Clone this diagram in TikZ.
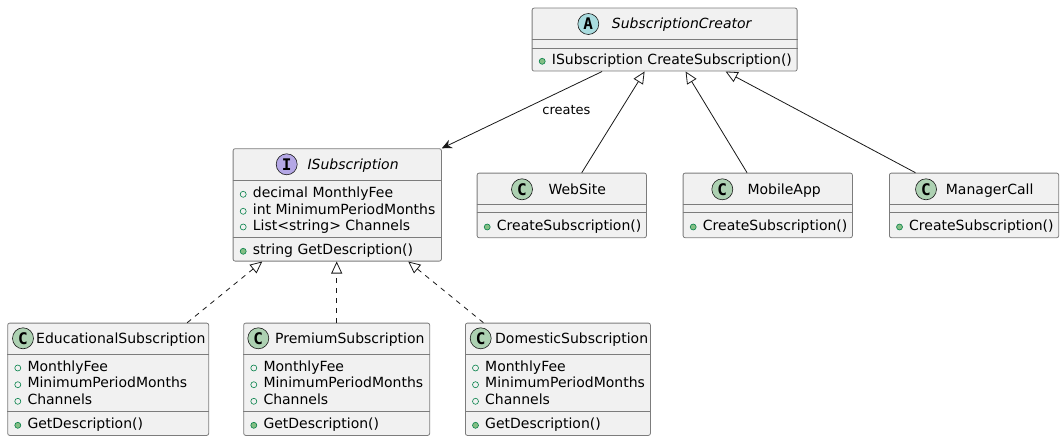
\documentclass[tikz,border=0pt]{standalone}
\usepackage{fontspec}
\setmainfont{DejaVu Sans}
\newfontfamily\iconfont{DejaVu Sans Mono}
\usetikzlibrary{arrows.meta,positioning}
\definecolor{boxfill}{HTML}{F1F1F1}
\definecolor{boxline}{HTML}{181818}
\definecolor{boxedge}{HTML}{7C7C7C}
\definecolor{iconC}{HTML}{ADD1B2}
\definecolor{iconA}{HTML}{A9DCDF}
\definecolor{iconI}{HTML}{B4A7E5}
\definecolor{markline}{HTML}{038048}
\definecolor{markfill}{HTML}{84BE84}
\tikzset{
  classbox/.style={draw=boxedge, fill=boxfill, line width=0.8pt, rounded corners=2pt, anchor=north west, inner sep=0pt},
  sep/.style={draw=boxedge, line width=0.8pt},
  icon/.style={circle, draw=boxline, line width=0.6pt, minimum size=21pt, inner sep=0pt, font=\iconfont\fontsize{16}{16}\selectfont\bfseries},
  cname/.style={anchor=base west, inner sep=0pt, font=\fontsize{14}{16}\selectfont},
  member/.style={anchor=base west, inner sep=0pt, font=\fontsize{14}{16}\selectfont},
  fieldmark/.style={draw=markline, line width=0.6pt, fill=none},
  methodmark/.style={draw=markline, line width=0.6pt, fill=markfill},
  link/.style={draw=boxline, line width=0.8pt},
  extends/.style={link, -{Triangle[open, length=12pt, width=11pt]}},
  realizes/.style={extends, dash pattern=on 5pt off 5pt},
}
\begin{document}
\begin{tikzpicture}[x=1pt,y=-1pt]
  \useasboundingbox (0,0) rectangle (1064,441);
  % abstract creator
  \node[classbox, minimum width=265pt, minimum height=63pt] (creator) at (531.7,7.7) {};
  \draw[sep] ([yshift=-31.6pt]creator.north west) -- ([yshift=-31.6pt]creator.north east);
  \draw[sep] ([yshift=-40.6pt]creator.north west) -- ([yshift=-40.6pt]creator.north east);
  \node[icon, fill=iconA] (creator-icon) at (588.3,24) {A};
  \node[cname] (creator-name) at (611.7,29) {\itshape SubscriptionCreator};
  \draw[methodmark] ([xshift=10.5pt,yshift=-53.6pt]creator.north west) circle (3pt);
  \node[member] (creator-op) at ([xshift=20pt,yshift=-56.6pt]creator.north west) {ISubscription CreateSubscription()};
  % interface
  \node[classbox, minimum width=208.3pt, minimum height=112.4pt] (isub) at (232.7,148.3) {};
  \draw[sep] ([yshift=-32.4pt]isub.north west) -- ([yshift=-32.4pt]isub.north east);
  \draw[sep] ([yshift=-89.4pt]isub.north west) -- ([yshift=-89.4pt]isub.north east);
  \node[icon, fill=iconI] (isub-icon) at (286.7,164.3) {I};
  \node[cname] (isub-name) at (307.3,169.3) {\itshape ISubscription};
  \foreach \y/\t [count=\i] in {197.3/decimal MonthlyFee, 214.3/int MinimumPeriodMonths, 230/List<string> Channels} {
    \draw[fieldmark] (243.2,\y-3) circle (3pt);
    \node[member] (isub-f\i) at (252.7,\y) {\t};
  }
  \draw[methodmark] (243.2,251.3) circle (3pt);
  \node[member] (isub-op) at (252.7,254.3) {string GetDescription()};
  % concrete creators
  \foreach \n/\x/\t/\ix/\tx in {web/476.7/WebSite/522/548.3, mobile/682.7/MobileApp/722.3/747.3, manager/889/ManagerCall/926/945.7} {
    \node[classbox, minimum width=169.3pt, minimum height=64.6pt] (\n) at (\x,172.7) {};
    \draw[sep] ([yshift=-31.3pt]\n.north west) -- ([yshift=-31.3pt]\n.north east);
    \draw[sep] ([yshift=-39.6pt]\n.north west) -- ([yshift=-39.6pt]\n.north east);
    \node[icon, fill=iconC] (\n-icon) at (\ix,189.3) {C};
    \node[cname] (\n-name) at (\tx,194.3) {\t};
    \draw[methodmark] ([xshift=10.5pt,yshift=-54.3pt]\n.north west) circle (3pt);
    \node[member] (\n-op) at ([xshift=20pt,yshift=-57.3pt]\n.north west) {CreateSubscription()};
  }
  % subscriptions
  \foreach \n/\x/\w/\t/\ix/\tx in {edu/7.3/201/EducationalSubscription/23/36, premium/243.3/186/PremiumSubscription/258.3/275, domestic/465/185/DomesticSubscription/480.7/495} {
    \node[classbox, minimum width=\w pt, minimum height=112.3pt] (\n) at (\x,322.7) {};
    \draw[sep] ([yshift=-31.5pt]\n.north west) -- ([yshift=-31.5pt]\n.north east);
    \draw[sep] ([yshift=-88.7pt]\n.north west) -- ([yshift=-88.7pt]\n.north east);
    \node[icon, fill=iconC] (\n-icon) at (\ix,338.3) {C};
    \node[cname] (\n-name) at (\tx,343.3) {\t};
    \foreach \dy/\f [count=\i] in {48.3/MonthlyFee, 65/MinimumPeriodMonths, 81.6/Channels} {
      \draw[fieldmark] ([xshift=10.5pt,yshift=-\dy pt+3pt]\n.north west) circle (3pt);
      \node[member] (\n-f\i) at ([xshift=20pt,yshift=-\dy pt]\n.north west) {\f};
    }
    \draw[methodmark] ([xshift=10.5pt,yshift=-102.6pt]\n.north west) circle (3pt);
    \node[member] (\n-op) at ([xshift=20pt,yshift=-105.6pt]\n.north west) {GetDescription()};
  }
  % connectors
  \draw[link, -{Stealth[length=10pt, width=9pt]}] ([xshift=-62.5pt]creator.south) -- (isub.north east)
    node[midway, right=20pt, inner sep=0pt, font=\fontsize{13}{15}\selectfont] (creates) {creates};
  \draw[extends] ([xshift=20pt]web.north) -- ([xshift=-20pt]creator.south);
  \draw[extends] ([xshift=-20.7pt]mobile.north) -- ([xshift=21pt]creator.south);
  \draw[extends] ([xshift=-58.6pt]manager.north) -- ([xshift=61pt]creator.south);
  \draw[realizes] ([xshift=79pt]edu.north) -- ([xshift=-75pt]isub.south);
  \draw[realizes] (premium.north) -- (premium.north |- isub.south);
  \draw[realizes] ([xshift=-74.5pt]domestic.north) -- ([xshift=71pt]isub.south);
\end{tikzpicture}
\end{document}
